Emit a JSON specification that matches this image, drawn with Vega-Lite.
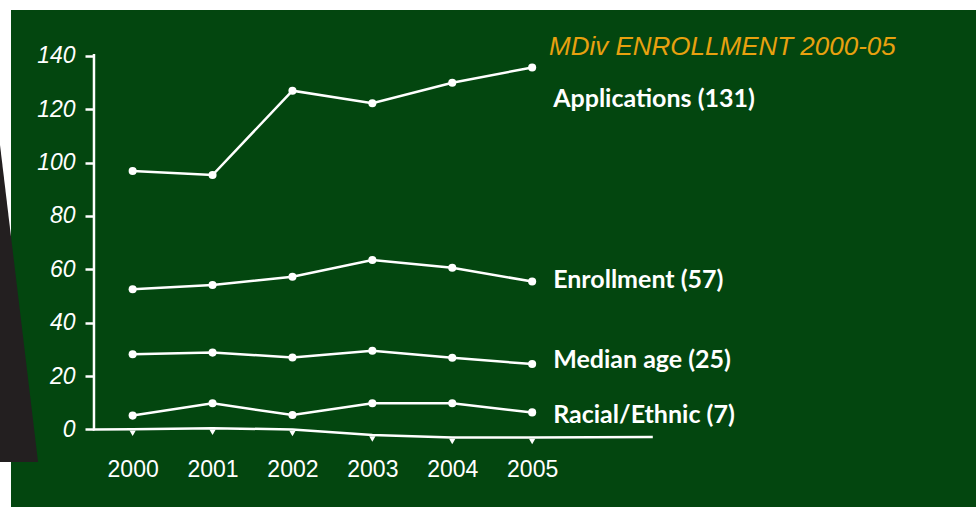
{
  "$schema": "https://vega.github.io/schema/vega-lite/v6.json",
  "width": 965,
  "height": 497,
  "autosize": {"type": "none"},
  "padding": {"left": 11, "top": 10, "right": 0, "bottom": 0},
  "background": "white",
  "config": {"view": {"fill": "#03460f", "stroke": null}},
  "title": {
    "text": "MDiv ENROLLMENT 2000-05",
    "color": "#e8a10f",
    "font": "Liberation Sans",
    "fontStyle": "italic",
    "fontSize": 26,
    "fontWeight": "normal",
    "anchor": "start",
    "frame": "group",
    "dx": 538,
    "offset": -50
  },
  "datasets": {
    "series": [
      {"series": "Applications", "year": 2000, "value": 96.8},
      {"series": "Applications", "year": 2001, "value": 95.3},
      {"series": "Applications", "year": 2002, "value": 126.9},
      {"series": "Applications", "year": 2003, "value": 122.2},
      {"series": "Applications", "year": 2004, "value": 129.9},
      {"series": "Applications", "year": 2005, "value": 135.6},
      {"series": "Enrollment", "year": 2000, "value": 52.5},
      {"series": "Enrollment", "year": 2001, "value": 54.1},
      {"series": "Enrollment", "year": 2002, "value": 57.2},
      {"series": "Enrollment", "year": 2003, "value": 63.5},
      {"series": "Enrollment", "year": 2004, "value": 60.6},
      {"series": "Enrollment", "year": 2005, "value": 55.4},
      {"series": "Median age", "year": 2000, "value": 28.2},
      {"series": "Median age", "year": 2001, "value": 28.8},
      {"series": "Median age", "year": 2002, "value": 27.0},
      {"series": "Median age", "year": 2003, "value": 29.5},
      {"series": "Median age", "year": 2004, "value": 26.9},
      {"series": "Median age", "year": 2005, "value": 24.5},
      {"series": "Racial/Ethnic", "year": 2000, "value": 5.2},
      {"series": "Racial/Ethnic", "year": 2001, "value": 9.8},
      {"series": "Racial/Ethnic", "year": 2002, "value": 5.4},
      {"series": "Racial/Ethnic", "year": 2003, "value": 9.8},
      {"series": "Racial/Ethnic", "year": 2004, "value": 9.8},
      {"series": "Racial/Ethnic", "year": 2005, "value": 6.4}
    ],
    "axisline": [
      {"order": 1, "year": 1999.516, "value": 140.6},
      {"order": 2, "year": 1999.516, "value": 0},
      {"order": 3, "year": 2000, "value": 0.1},
      {"order": 4, "year": 2001, "value": 0.5},
      {"order": 5, "year": 2002, "value": 0},
      {"order": 6, "year": 2003, "value": -2.1},
      {"order": 7, "year": 2004, "value": -3.0},
      {"order": 8, "year": 2005, "value": -3.0},
      {"order": 9, "year": 2006.51, "value": -2.8}
    ],
    "decor": [
      {"year": 1998.34, "year2": 1998.34, "value": 106.6},
      {"year": 1998.34, "year2": 1998.816, "value": -12.2}
    ],
    "labels": [
      {"year": 2005, "value": 123.8, "label": "Applications (131)"},
      {"year": 2005, "value": 56.0, "label": "Enrollment (57)"},
      {"year": 2005, "value": 26.0, "label": "Median age (25)"},
      {"year": 2005, "value": 5.4, "label": "Racial/Ethnic (7)"}
    ]
  },
  "encoding": {
    "x": {
      "field": "year",
      "type": "quantitative",
      "scale": {"domain": [1998.4775, 2010.555], "nice": false, "zero": false},
      "axis": {
        "values": [2000, 2001, 2002, 2003, 2004, 2005],
        "format": "d",
        "title": null,
        "offset": -77.5,
        "domain": false,
        "ticks": false,
        "grid": false,
        "labelPadding": 29,
        "labelColor": "white",
        "labelFont": "Liberation Sans",
        "labelFontSize": 23,
        "labelFontStyle": "normal"
      }
    },
    "y": {
      "field": "value",
      "type": "quantitative",
      "scale": {"domain": [-29.03, 157.12], "nice": false, "zero": false},
      "axis": {
        "values": [0, 20, 40, 60, 80, 100, 120, 140],
        "title": null,
        "offset": -83,
        "domain": false,
        "grid": false,
        "ticks": true,
        "tickSize": 9,
        "tickWidth": 2.5,
        "tickColor": "white",
        "labelPadding": 10,
        "labelColor": "white",
        "labelFont": "Liberation Sans",
        "labelFontSize": 23,
        "labelFontStyle": "italic"
      }
    }
  },
  "layer": [
    {
      "data": {"name": "decor"},
      "mark": {"type": "area", "orient": "horizontal", "color": "#231f20", "clip": false},
      "encoding": {"x2": {"field": "year2"}}
    },
    {
      "data": {"name": "axisline"},
      "mark": {"type": "line", "color": "white", "strokeWidth": 2.5, "clip": false},
      "encoding": {"order": {"field": "order", "type": "quantitative"}}
    },
    {
      "data": {"name": "axisline"},
      "transform": [{"filter": "datum.year >= 2000 && datum.year <= 2005"}],
      "mark": {"type": "point", "shape": "triangle-down", "filled": true, "color": "white", "opacity": 1, "size": 40, "yOffset": 4}
    },
    {
      "data": {"name": "series"},
      "mark": {"type": "line", "color": "white", "strokeWidth": 2.5},
      "encoding": {"detail": {"field": "series"}}
    },
    {
      "data": {"name": "series"},
      "mark": {"type": "point", "shape": "circle", "filled": true, "color": "white", "opacity": 1, "size": 65}
    },
    {
      "data": {"name": "labels"},
      "mark": {"type": "text", "align": "left", "baseline": "middle", "dx": 21, "color": "white", "font": "Lato", "fontWeight": "bold", "fontSize": 25, "clip": false},
      "encoding": {"text": {"field": "label"}}
    }
  ]
}
